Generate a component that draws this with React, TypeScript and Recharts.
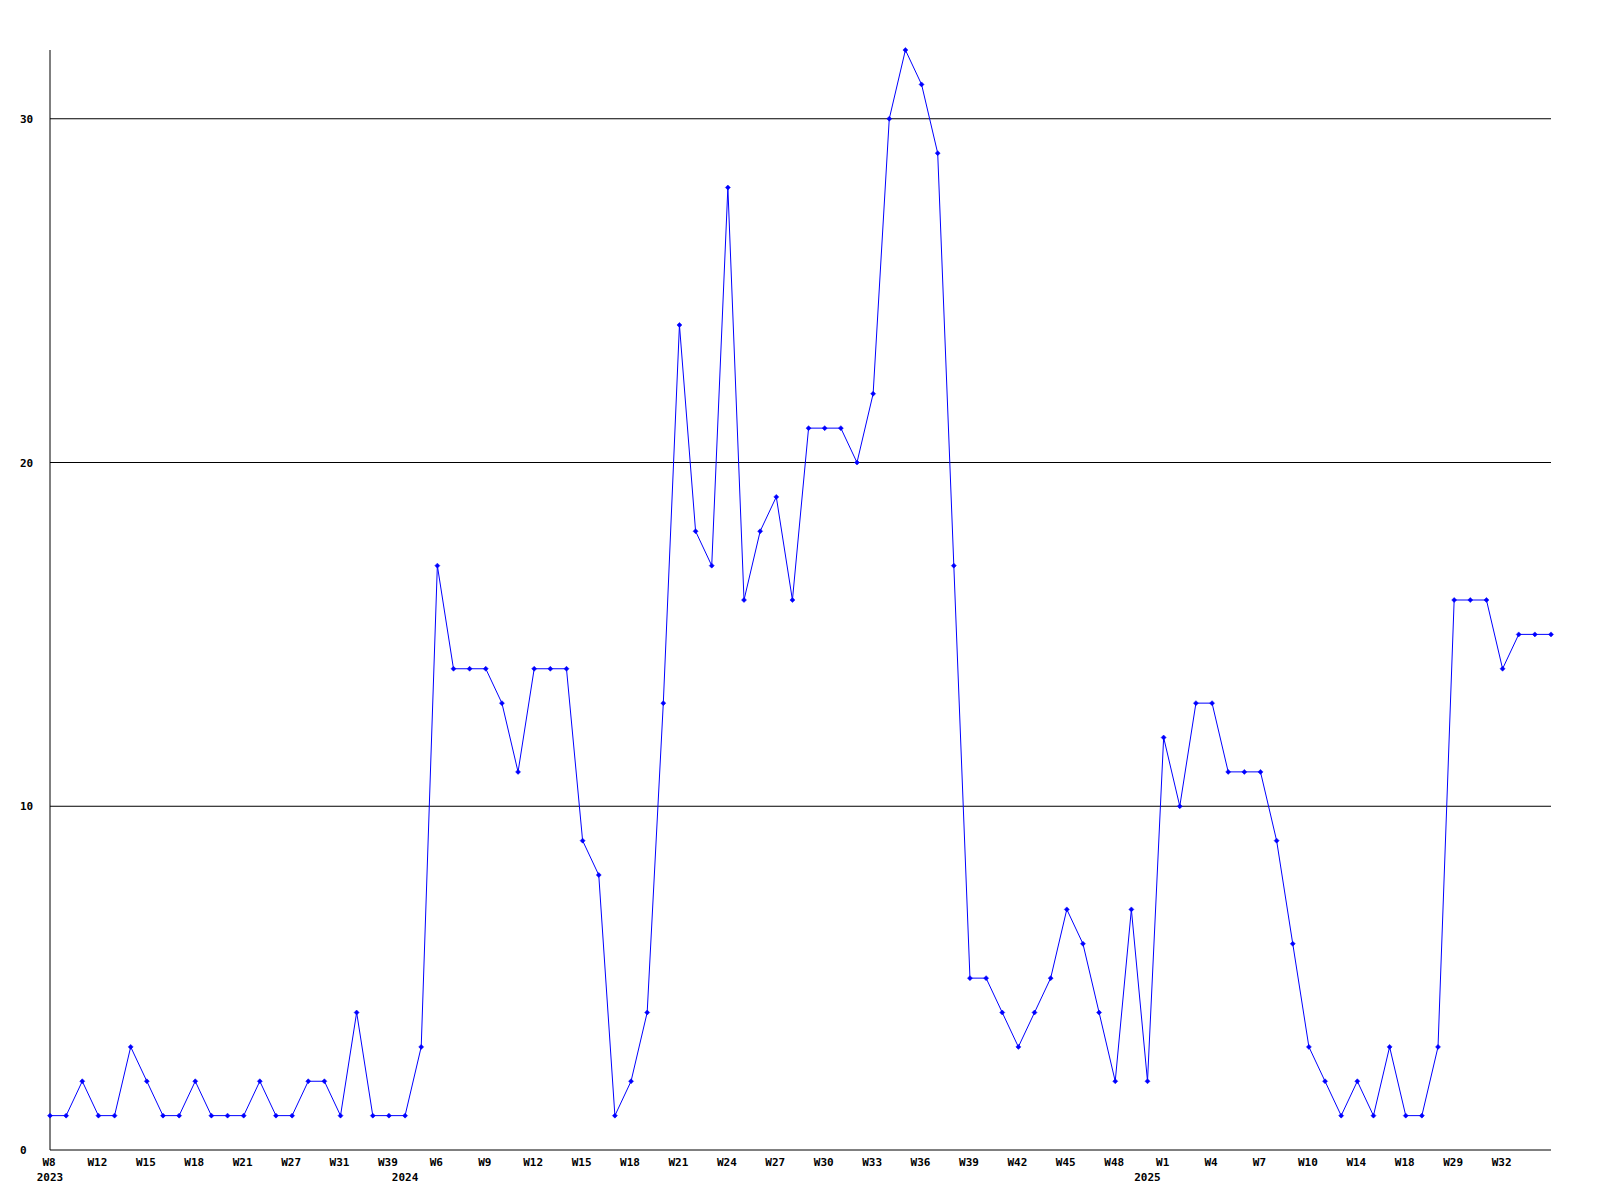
import React from 'react';
import { LineChart, Line, XAxis, YAxis, ReferenceLine } from 'recharts';

// weekly counts, one point per week (some weeks missing in the source)
const counts = [
  1, 1, 2, 1, 1, 3, 2, 1, 1, 2, 1, 1, 1, 2, 1, 1, 2, 2, 1, 4, 1, 1, 1, 3,
  17, 14, 14, 14, 13, 11, 14, 14, 14, 9, 8, 1, 2, 4, 13, 24, 18, 17, 28, 16,
  18, 19, 16, 21, 21, 21, 20, 22, 30, 32, 31, 29, 17, 5, 5, 4, 3, 4, 5, 7,
  6, 4, 2, 7, 2, 12, 10, 13, 13, 11, 11, 11, 9, 6, 3, 2, 1, 2, 1, 3,
  1, 1, 3, 16, 16, 16, 14, 15, 15, 15,
];

// labels shown on every third point
const weekLabels = [
  'W8', 'W12', 'W15', 'W18', 'W21', 'W27', 'W31', 'W39', 'W6', 'W9', 'W12',
  'W15', 'W18', 'W21', 'W24', 'W27', 'W30', 'W33', 'W36', 'W39', 'W42', 'W45',
  'W48', 'W1', 'W4', 'W7', 'W10', 'W14', 'W18', 'W29', 'W32',
];
const weekLabelIdx = weekLabels.map((_, i) => i * 3);

const years = ['2023', '2024', '2025'];
const yearIdx = [0, 22, 68];

const yTicks = [0, 10, 20, 30];
const gridValues = [10, 20, 30];

const data = counts.map((v, i) => ({ i, v }));
const xTicks = Array.from(new Set([...weekLabelIdx, ...yearIdx])).sort((a, b) => a - b);

const FONT = '"DejaVu Sans Mono", monospace';

const XTick = ({ x, payload }: any) => {
  const w = weekLabelIdx.indexOf(payload.value);
  const yr = yearIdx.indexOf(payload.value);
  return (
    <g>
      {w >= 0 && (
        <text x={x - 1} y={1166} textAnchor="middle" fontFamily={FONT} fontSize={11} fontWeight="bold" fill="#000">
          {weekLabels[w]}
        </text>
      )}
      {yr >= 0 && (
        <text x={x} y={1181} textAnchor="middle" fontFamily={FONT} fontSize={11} fontWeight="bold" fill="#000">
          {years[yr]}
        </text>
      )}
    </g>
  );
};

const YTick = ({ y, payload }: any) => (
  <text x={20} y={y + 4} textAnchor="start" fontFamily={FONT} fontSize={11} fontWeight="bold" fill="#000">
    {payload.value}
  </text>
);

const Marker = ({ cx, cy }: any) => {
  if (cx == null || cy == null) return null;
  return (
    <path
      d={`M${cx},${cy - 2.5} L${cx + 2.5},${cy} L${cx},${cy + 2.5} L${cx - 2.5},${cy} Z`}
      fill="#0000ff"
      stroke="#0000ff"
      strokeWidth={0.5}
    />
  );
};

export default function App() {
  return (
    <div style={{ position: 'absolute', left: 0, top: 0, background: '#fff' }}>
      <LineChart width={1600} height={1200} data={data} margin={{ top: 50, right: 49, bottom: 0, left: 20 }}>
        <XAxis
          dataKey="i"
          type="number"
          domain={[0, 93]}
          ticks={xTicks}
          interval={0}
          tickLine={false}
          axisLine={{ stroke: '#000' }}
          tick={<XTick />}
          height={50}
        />
        <YAxis
          type="number"
          domain={[0, 32]}
          ticks={yTicks}
          interval={0}
          tickLine={false}
          axisLine={{ stroke: '#000' }}
          tick={<YTick />}
          width={30}
        />
        {gridValues.map((g) => (
          <ReferenceLine key={g} y={g} stroke="#000" strokeWidth={1} />
        ))}
        <Line
          type="linear"
          dataKey="v"
          stroke="#0000ff"
          strokeWidth={1}
          dot={<Marker />}
          activeDot={false}
          isAnimationActive={false}
        />
      </LineChart>
    </div>
  );
}
